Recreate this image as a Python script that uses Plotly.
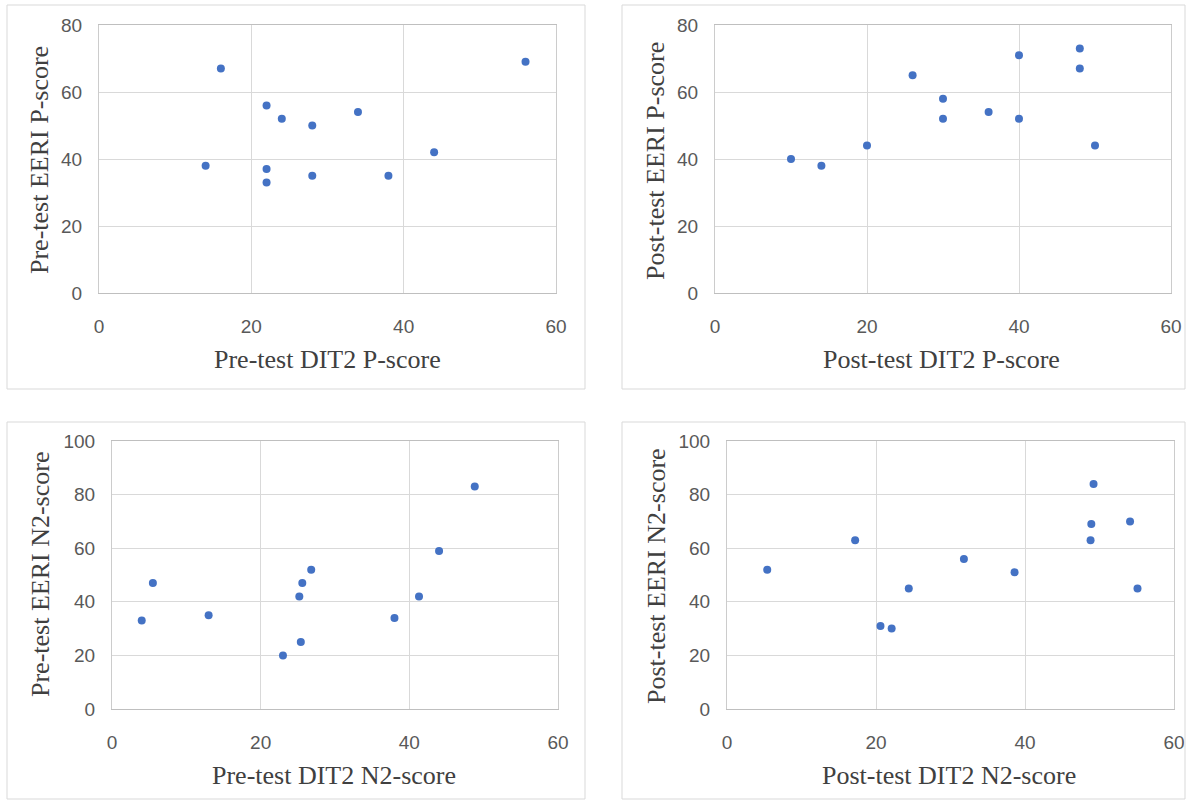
import plotly.graph_objects as go

# Panel 1: Pre-test P-scores
pre_dit2_p = [16, 56, 22, 24, 28, 34, 14, 22, 22, 28, 38, 44]
pre_eeri_p = [67, 69, 56, 52, 50, 54, 38, 37, 33, 35, 35, 42]

# Panel 2: Post-test P-scores
post_dit2_p = [10, 14, 20, 26, 30, 30, 36, 40, 40, 48, 48, 50]
post_eeri_p = [40, 38, 44, 65, 58, 52, 54, 71, 52, 73, 67, 44]

# Panel 3: Pre-test N2-scores
pre_dit2_n2 = [4.0, 5.5, 13.0, 23.0, 25.2, 25.4, 25.6, 26.8, 38.0, 41.3, 44.0, 48.8]
pre_eeri_n2 = [33, 47, 35, 20, 42, 25, 47, 52, 34, 42, 59, 83]

# Panel 4: Post-test N2-scores
post_dit2_n2 = [5.4, 17.2, 20.6, 22.1, 24.4, 31.8, 38.6, 48.8, 48.9, 49.2, 54.1, 55.1]
post_eeri_n2 = [52, 63, 31, 30, 45, 56, 51, 63, 69, 84, 70, 45]

x_titles = ["Pre-test DIT2 P-score", "Post-test DIT2 P-score",
            "Pre-test DIT2 N2-score", "Post-test DIT2 N2-score"]
y_titles = ["Pre-test EERI P-score", "Post-test EERI P-score",
            "Pre-test EERI N2-score", "Post-test EERI N2-score"]

W, H = 1187, 800
def px(v): return v / W
def py(v): return 1 - v / H

MARKER = "#4472C4"
GRID = "#d9d9d9"
TICK_FONT = dict(family="Liberation Sans, Arial, sans-serif", size=19, color="#595959")
TITLE_FONT = dict(family="Liberation Serif, Times New Roman, serif", size=26, color="#404040")

panels = [
    dict(x=pre_dit2_p, y=pre_eeri_p, xd=(99, 556), yd=(25, 293), ymax=80, box=(7, 5, 585, 389),
         xt=(327, 360), yt=(40, 160)),
    dict(x=post_dit2_p, y=post_eeri_p, xd=(715, 1171), yd=(25, 293), ymax=80, box=(622, 5, 1185, 389),
         xt=(941, 360), yt=(655, 161)),
    dict(x=pre_dit2_n2, y=pre_eeri_n2, xd=(112, 558), yd=(441, 709), ymax=100, box=(7, 422, 585, 799),
         xt=(334, 775), yt=(40, 575)),
    dict(x=post_dit2_n2, y=post_eeri_n2, xd=(727, 1174), yd=(441, 709), ymax=100, box=(622, 422, 1185, 799),
         xt=(949, 775), yt=(656, 576)),
]

fig = go.Figure()
shapes = []
annotations = []
layout = {}
for i, p in enumerate(panels):
    n = "" if i == 0 else str(i + 1)
    fig.add_trace(go.Scatter(x=p["x"], y=p["y"], mode="markers",
                             marker=dict(color=MARKER, size=8),
                             xaxis="x" + n, yaxis="y" + n, showlegend=False))
    layout["xaxis" + n] = dict(
        domain=[px(p["xd"][0]), px(p["xd"][1])], range=[0, 60], dtick=20,
        anchor="y" + n, showgrid=True, gridcolor=GRID, gridwidth=1,
        zeroline=False, showline=True, linecolor="#bfbfbf", linewidth=1, mirror=True,
        ticks="outside", ticklen=16, tickcolor="rgba(0,0,0,0)", tickfont=TICK_FONT,
        automargin=False, fixedrange=True)
    layout["yaxis" + n] = dict(
        domain=[py(p["yd"][1]), py(p["yd"][0])], range=[0, p["ymax"]], dtick=20,
        anchor="x" + n, showgrid=True, gridcolor=GRID, gridwidth=1,
        zeroline=False, showline=True, linecolor="#cccccc", linewidth=1, mirror=True,
        ticks="outside", ticklen=12, tickcolor="rgba(0,0,0,0)", tickfont=TICK_FONT,
        automargin=False, fixedrange=True)
    x0, y0, x1, y1 = p["box"]
    shapes.append(dict(type="rect", xref="paper", yref="paper",
                       x0=px(x0), x1=px(x1), y0=py(y1), y1=py(y0),
                       line=dict(color=GRID, width=1), fillcolor="rgba(0,0,0,0)"))
    annotations.append(dict(text=x_titles[i], xref="paper", yref="paper",
                            x=px(p["xt"][0]), y=py(p["xt"][1]), xanchor="center", yanchor="middle",
                            showarrow=False, font=TITLE_FONT))
    annotations.append(dict(text=y_titles[i], xref="paper", yref="paper",
                            x=px(p["yt"][0]), y=py(p["yt"][1]), xanchor="center", yanchor="middle",
                            textangle=-90, showarrow=False, font=TITLE_FONT))

fig.update_layout(**layout)
fig.update_layout(width=W, height=H, margin=dict(l=0, r=0, t=0, b=0),
                  paper_bgcolor="white", plot_bgcolor="white",
                  shapes=shapes, annotations=annotations)

fig.write_html("out.html", config={"displayModeBar": False},
               post_script="document.body.style.margin='0';document.body.style.padding='0';"
                           "document.documentElement.style.overflow='hidden';")
